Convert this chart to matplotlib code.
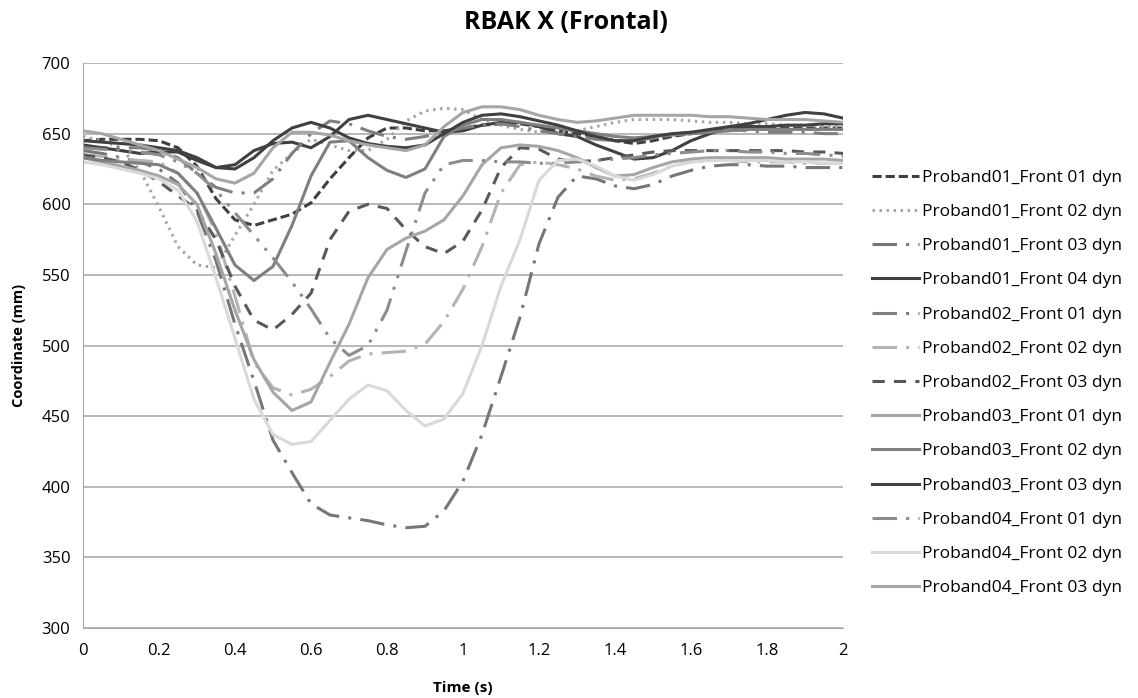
import matplotlib
matplotlib.use("Agg")
import matplotlib.pyplot as plt
from matplotlib.ticker import FuncFormatter

plt.rcParams['font.family'] = ['Open Sans', 'DejaVu Sans']

# time axis (s), one value every 0.05 s
t = [0.00, 0.05, 0.10, 0.15, 0.20, 0.25, 0.30, 0.35, 0.40, 0.45,
     0.50, 0.55, 0.60, 0.65, 0.70, 0.75, 0.80, 0.85, 0.90, 0.95,
     1.00, 1.05, 1.10, 1.15, 1.20, 1.25, 1.30, 1.35, 1.40, 1.45,
     1.50, 1.55, 1.60, 1.65, 1.70, 1.75, 1.80, 1.85, 1.90, 1.95, 2.00]

p01_f01 = [645, 646, 646, 646, 645, 640, 627, 604, 589, 585,
           589, 593, 601, 618, 633, 647, 654, 654, 652, 652,
           654, 656, 657, 657, 655, 652, 650, 648, 645, 643,
           645, 648, 650, 652, 653, 653, 654, 654, 654, 654, 654]
p01_f02 = [648, 645, 640, 624, 598, 570, 557, 555, 578, 600,
           624, 636, 646, 642, 638, 638, 646, 659, 666, 668,
           667, 660, 656, 653, 651, 651, 652, 655, 658, 660,
           660, 660, 659, 658, 658, 657, 657, 656, 656, 655, 655]
p01_f03 = [638, 636, 633, 630, 625, 615, 595, 560, 515, 475,
           433, 410, 388, 380, 378, 376, 373, 371, 372, 383,
           404, 437, 478, 520, 572, 605, 620, 618, 613, 611,
           614, 620, 624, 627, 628, 628, 627, 627, 626, 626, 626]
p01_f04 = [645, 644, 643, 642, 640, 638, 633, 626, 628, 638,
           643, 644, 640, 648, 660, 663, 660, 657, 654, 651,
           652, 656, 658, 658, 655, 650, 648, 642, 637, 632,
           633, 638, 645, 650, 654, 655, 655, 656, 656, 657, 657]
p02_f01 = [640, 640, 640, 640, 638, 633, 622, 612, 608, 608,
           618, 636, 650, 659, 657, 652, 648, 646, 648, 651,
           654, 656, 657, 655, 652, 650, 648, 646, 645, 645,
           647, 649, 651, 652, 653, 652, 651, 651, 651, 650, 650]
p02_f02 = [635, 634, 632, 631, 630, 622, 608, 580, 535, 488,
           470, 465, 469, 478, 489, 494, 495, 496, 501, 517,
           540, 570, 608, 628, 630, 628, 625, 620, 617, 618,
           622, 627, 630, 631, 631, 630, 630, 630, 629, 629, 629]
p02_f03 = [635, 633, 630, 624, 616, 606, 596, 575, 542, 518,
           511, 522, 537, 575, 595, 600, 597, 582, 570, 565,
           574, 596, 626, 640, 639, 632, 630, 631, 633, 635,
           637, 638, 638, 638, 638, 638, 638, 638, 637, 637, 636]
p03_f01 = [633, 630, 627, 624, 620, 614, 600, 565, 525, 490,
           467, 454, 460, 488, 515, 548, 568, 576, 581, 589,
           606, 628, 640, 642, 641, 638, 633, 626, 620, 621,
           626, 630, 632, 633, 633, 633, 633, 632, 632, 632, 631]
p03_f02 = [633, 631, 630, 629, 628, 622, 608, 583, 557, 546,
           556, 585, 620, 644, 645, 633, 624, 619, 625, 648,
           656, 660, 660, 658, 656, 654, 652, 650, 648, 647,
           648, 649, 650, 651, 652, 653, 653, 653, 653, 653, 653]
p03_f03 = [642, 640, 638, 636, 637, 637, 631, 626, 625, 633,
           645, 654, 658, 654, 647, 643, 641, 640, 642, 650,
           658, 663, 664, 662, 659, 656, 652, 648, 645, 645,
           648, 650, 651, 653, 655, 657, 660, 663, 665, 664, 661]
p04_f01 = [640, 639, 638, 637, 635, 630, 622, 610, 594, 578,
           562, 545, 526, 505, 493, 500, 525, 567, 608, 628,
           631, 631, 630, 630, 629, 629, 630, 631, 632, 633,
           635, 636, 637, 638, 638, 637, 637, 636, 636, 635, 634]
p04_f02 = [630, 628, 625, 622, 618, 610, 588, 548, 505, 462,
           437, 430, 432, 447, 462, 472, 468, 454, 443, 448,
           466, 500, 542, 575, 617, 631, 632, 627, 620, 617,
           621, 627, 630, 631, 631, 631, 631, 630, 630, 629, 629]
p04_f03 = [652, 650, 646, 642, 638, 632, 626, 618, 615, 622,
           640, 651, 651, 649, 645, 642, 640, 638, 642, 655,
           665, 669, 669, 667, 663, 660, 658, 659, 661, 663,
           663, 663, 663, 662, 662, 661, 660, 660, 660, 659, 658]

series = [
    ("Proband01_Front 01 dyn", p01_f01, "#404040", (0, (3, 1.3))),
    ("Proband01_Front 02 dyn", p01_f02, "#a6a6a6", (0, (0.8, 1.5))),
    ("Proband01_Front 03 dyn", p01_f03, "#767676", (0, (8, 3, 1, 3))),
    ("Proband01_Front 04 dyn", p01_f04, "#404040", "-"),
    ("Proband02_Front 01 dyn", p02_f01, "#7f7f7f", (0, (8, 3, 1, 3))),
    ("Proband02_Front 02 dyn", p02_f02, "#b3b3b3", (0, (8, 3, 1, 3))),
    ("Proband02_Front 03 dyn", p02_f03, "#595959", (0, (4, 3))),
    ("Proband03_Front 01 dyn", p03_f01, "#a6a6a6", "-"),
    ("Proband03_Front 02 dyn", p03_f02, "#7f7f7f", "-"),
    ("Proband03_Front 03 dyn", p03_f03, "#404040", "-"),
    ("Proband04_Front 01 dyn", p04_f01, "#8c8c8c", (0, (8, 3, 1, 3, 1, 3))),
    ("Proband04_Front 02 dyn", p04_f02, "#d9d9d9", "-"),
    ("Proband04_Front 03 dyn", p04_f03, "#a6a6a6", "-"),
]

fig = plt.figure(figsize=(11.38, 6.98), dpi=100)
ax = fig.add_axes([0.0729, 0.1003, 0.6679, 0.8094])

for label, vals, color, ls in series:
    ax.plot(t, vals, color=color, linestyle=ls, linewidth=2.2, label=label)

ax.set_xlim(0, 2)
ax.set_ylim(300, 700)
ax.set_xticks([0, 0.2, 0.4, 0.6, 0.8, 1.0, 1.2, 1.4, 1.6, 1.8, 2.0])
ax.set_yticks(range(300, 701, 50))
ax.xaxis.set_major_formatter(FuncFormatter(lambda v, p: f"{v:g}"))
ax.tick_params(length=0, labelsize=12, colors="#000000")
ax.tick_params(axis="x", pad=11)
ax.tick_params(axis="y", pad=9)
ax.grid(axis="y", color="#a6a6a6", linewidth=1.1)
ax.set_axisbelow(True)
for s in ["top", "right"]:
    ax.spines[s].set_visible(False)
ax.spines["left"].set_color("#a6a6a6")
ax.spines["bottom"].set_color("#a6a6a6")

fig.text(0.497, 0.968, "RBAK X (Frontal)", fontsize=18, fontweight="bold",
         ha="center", va="center")
ax.set_xlabel("Time (s)", fontsize=11, fontweight="bold", labelpad=16)
ax.set_ylabel("Coordinate (mm)", fontsize=10.5, fontweight="bold", labelpad=11)

fig.legend(loc="upper left", bbox_to_anchor=(0.766, 0.757), frameon=False,
           fontsize=12.5, handlelength=2.7, handletextpad=0.2,
           labelspacing=1.04, borderpad=0, borderaxespad=0)

fig.savefig("out.png", dpi=100)
